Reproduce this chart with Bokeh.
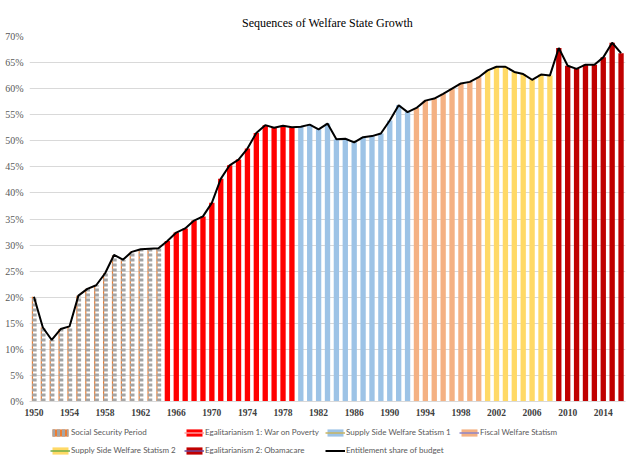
from bokeh.plotting import figure
from bokeh.layouts import column
from bokeh.models import Range1d, FixedTicker, PrintfTickFormatter, Legend, LegendItem, ColumnDataSource
from bokeh.transform import dodge
from bokeh.embed import file_html
from bokeh.resources import INLINE

# ---- data ----
ss_years = list(range(1950, 1965))
ss_vals = [20.1, 14.2, 11.8, 13.9, 14.4, 20.3, 21.6, 22.3, 24.6, 28.1, 27.2, 28.7, 29.2, 29.3, 29.4]

eg1_years = list(range(1965, 1980))
eg1_vals = [30.8, 32.4, 33.2, 34.7, 35.5, 38.1, 42.7, 45.3, 46.4, 48.5, 51.5, 53.0, 52.5, 52.9, 52.6]

ss1_years = list(range(1980, 1993))
ss1_vals = [52.7, 53.1, 52.2, 53.3, 50.3, 50.4, 49.7, 50.7, 50.9, 51.4, 53.9, 56.8, 55.5]

fis_years = list(range(1993, 2001))
fis_vals = [56.3, 57.7, 58.1, 59.0, 60.0, 61.0, 61.3, 62.2]

ss2_years = list(range(2001, 2009))
ss2_vals = [63.5, 64.2, 64.2, 63.2, 62.8, 61.7, 62.7, 62.5]

eg2_years = list(range(2009, 2017))
eg2_vals = [67.8, 64.4, 63.8, 64.6, 64.6, 66.0, 68.8, 66.8]

x_tick_years = [1950, 1954, 1958, 1962, 1966, 1970, 1974, 1978, 1982, 1986, 1990,
                1994, 1998, 2002, 2006, 2010, 2014]
y_ticks = [0, 5, 10, 15, 20, 25, 30, 35, 40, 45, 50, 55, 60, 65, 70]

labels = ["Social Security Period", "Egalitarianism 1: War on Poverty",
          "Supply Side Welfare Statism 1", "Fiscal Welfare Statism",
          "Supply Side Welfare Statism 2", "Egalitarianism 2: Obamacare",
          "Entitlement share of budget"]

all_years = ss_years + eg1_years + ss1_years + fis_years + ss2_years + eg2_years
all_vals = ss_vals + eg1_vals + ss1_vals + fis_vals + ss2_vals + eg2_vals

series = [
    (eg1_years, eg1_vals, "#FF0000", "#FF9A9A"),
    (ss1_years, ss1_vals, "#9DC3E6", "#C8B560"),
    (fis_years, fis_vals, "#F4B183", "#8E86C8"),
    (ss2_years, ss2_vals, "#FFD966", "#70AD47"),
    (eg2_years, eg2_vals, "#C00000", "#6A4A9C"),
]

# ---- main figure ----
p = figure(width=640, height=418, output_backend="svg", toolbar_location=None,
           x_range=Range1d(1949.5, 2016.5), y_range=Range1d(0, 70),
           min_border_left=29, min_border_right=15, min_border_top=36, min_border_bottom=17,
           title="Sequences of Welfare State Growth")
p.title.align = "center"
p.title.vertical_align = "top"
p.title.text_font = "Liberation Serif"
p.title.text_font_size = "12px"
p.title.text_font_style = "normal"
p.title.text_color = "#000000"
p.outline_line_color = None
p.background_fill_color = "white"
p.border_fill_color = "white"

p.xgrid.visible = False
p.ygrid.grid_line_color = "#D9D9D9"
p.ygrid.grid_line_width = 1

p.yaxis.ticker = FixedTicker(ticks=y_ticks)
p.yaxis.formatter = PrintfTickFormatter(format="%d%%")
p.yaxis.axis_line_color = None
p.yaxis.major_tick_line_color = None
p.yaxis.minor_tick_line_color = None
p.yaxis.major_label_text_font = "Liberation Serif"
p.yaxis.major_label_text_font_size = "10px"
p.yaxis.major_label_text_color = "#595959"
p.yaxis.major_label_standoff = 0

p.xaxis.ticker = FixedTicker(ticks=x_tick_years)
p.xaxis.axis_line_color = "#D9D9D9"
p.xaxis.major_tick_line_color = None
p.xaxis.minor_tick_line_color = None
p.xaxis.major_label_text_font = "Liberation Serif"
p.xaxis.major_label_text_font_size = "9.5px"
p.xaxis.major_label_text_font_style = "bold"
p.xaxis.major_label_text_color = "#404040"
p.xaxis.major_label_standoff = 1

# Social security period: patterned bars (orange thin line + gray dashed thick line)
ss_src = ColumnDataSource(dict(year=ss_years, share=ss_vals))
p.segment(x0=dodge("year", -0.17, range=p.x_range), y0=0,
          x1=dodge("year", -0.17, range=p.x_range), y1="share",
          source=ss_src, line_color="#ED7D31", line_width=1.2)
p.segment(x0=dodge("year", 0.05, range=p.x_range), y0=0,
          x1=dodge("year", 0.05, range=p.x_range), y1="share",
          source=ss_src, line_color="#A5A5A5", line_width=4.5, line_dash="3 2")

for yrs, vals, col, accent in series:
    src = ColumnDataSource(dict(year=yrs, share=vals))
    p.vbar(x="year", top="share", width=0.6, source=src, fill_color=col, line_color=None)

p.line(all_years, all_vals, line_color="black", line_width=2)

# ---- legend strip (hidden renderers of the same data, used only for legend glyphs) ----
lf = figure(width=640, height=44, output_backend="svg", toolbar_location=None,
            x_range=Range1d(1949.5, 2016.5), y_range=Range1d(0, 70),
            x_axis_type=None, y_axis_type=None,
            min_border_left=0, min_border_right=0, min_border_top=0, min_border_bottom=0)
lf.outline_line_color = None
lf.grid.visible = False
lf.background_fill_color = "white"
lf.border_fill_color = "white"

ss_icon = lf.vbar(x=ss_years, top=ss_vals, width=0.6, fill_color="#ED7D31", line_color=None,
                  hatch_pattern="vertical_line", hatch_color="#A5A5A5",
                  hatch_weight=3, hatch_scale=5, visible=False)
items = [LegendItem(label=labels[0], renderers=[ss_icon])]
for lab, (yrs, vals, col, accent) in zip(labels[1:6], series):
    rb = lf.vbar(x=yrs, top=vals, width=0.6, fill_color=col, line_color=None, visible=False)
    rl = lf.line(x=yrs, y=vals, line_color=accent, line_width=1.5, visible=False)
    items.append(LegendItem(label=lab, renderers=[rb, rl]))
rk = lf.line(all_years, all_vals, line_color="black", line_width=2, visible=False)
items.append(LegendItem(label=labels[6], renderers=[rk]))

legend = Legend(items=items, location=(21, 6), orientation="horizontal", ncols=4,
                glyph_width=20, glyph_height=9, label_standoff=1, label_width=107,
                label_height=12, spacing=6, padding=0, margin=0,
                label_text_font="Lato", label_text_font_size="8px",
                label_text_color="#595959", border_line_color=None,
                background_fill_alpha=0, inactive_fill_alpha=0)
lf.add_layout(legend)

layout = column(p, lf, spacing=0)
open("out.html", "w").write(file_html(layout, INLINE))
